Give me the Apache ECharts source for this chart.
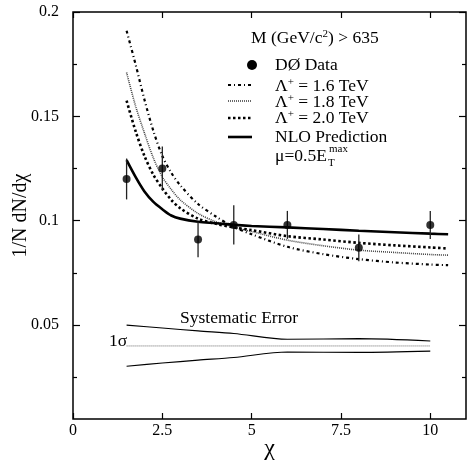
<!DOCTYPE html>
<html><head><meta charset="utf-8">
<script src="https://cdn.jsdelivr.net/npm/echarts@6/dist/echarts.min.js"></script>
<style>html,body{margin:0;padding:0;background:#fff}#c{width:468px;height:464px}</style>
</head><body><div id="c"></div>
<script>
// ---- data ----
const dataX = [1.5, 2.5, 3.5, 4.5, 6, 8, 10];
const dataY = [0.120, 0.125, 0.091, 0.098, 0.098, 0.087, 0.098];
const dataErr = [0.0098, 0.0105, 0.0085, 0.0094, 0.0067, 0.0064, 0.0067];

const curveX = [1.5, 1.75, 2, 2.25, 2.5, 2.75, 3, 3.5, 4, 4.5, 5, 6, 7, 8, 9, 10, 10.5];
const lam16 = [0.191, 0.175, 0.158, 0.143, 0.131, 0.123, 0.117, 0.108, 0.102, 0.097, 0.0935, 0.0875, 0.084, 0.0816, 0.0800, 0.0790, 0.0787];
const lam18 = [0.171, 0.155, 0.142, 0.130, 0.121, 0.115, 0.110, 0.1035, 0.0995, 0.097, 0.0948, 0.0907, 0.088, 0.0859, 0.0848, 0.0838, 0.0835];
const lam20 = [0.1575, 0.143, 0.131, 0.122, 0.1155, 0.110, 0.106, 0.101, 0.0985, 0.0968, 0.0955, 0.0926, 0.091, 0.0894, 0.0882, 0.0872, 0.0867];
const nlo = [0.129, 0.121, 0.114, 0.109, 0.1055, 0.1025, 0.101, 0.0995, 0.0988, 0.098, 0.0975, 0.0968, 0.096, 0.0952, 0.0945, 0.0938, 0.0935];

const sysX = [1.5, 2.5, 3.5, 4.5, 6, 8, 10];
const sysUp = [0.0500, 0.0486, 0.0472, 0.0460, 0.0432, 0.0435, 0.0424];
const sysLo = [0.0303, 0.0318, 0.0332, 0.0345, 0.0371, 0.0369, 0.0375];
const sysMidX = [1.5, 10];
const sysMid = [0.040, 0.040];

const xTicks = [0, 2.5, 5, 7.5, 10];
const xTickLabels = ['0', '2.5', '5', '7.5', '10'];
const yMajor = [0.05, 0.1, 0.15, 0.2];
const yMajorLabels = ['0.05', '0.1', '0.15', '0.2'];
const yMinor = [0.025, 0.075, 0.125, 0.175];

// ---- chart ----
const FONT = '"Liberation Serif", "DejaVu Serif", serif';
const zip = (xs, ys) => xs.map((x, i) => [x, ys[i]]);
const chart = echarts.init(document.getElementById('c'), null, {renderer: 'canvas'});

const yBase = {type: 'value', min: 0.005, max: 0.2, splitLine: {show: false}, axisLine: {show: false}};
const DASH16 = [3, 3, 1, 3];
const DASH18 = [1, 1];
const DASH20 = [2.5, 2.5];
const SUP = {fontFamily: FONT, fontSize: 11, verticalAlign: 'top', padding: [0, 0, 8, 0]};

const option = {
  animation: false,
  backgroundColor: '#fff',
  grid: {left: 73, right: 2, top: 12, bottom: 45, outerBoundsMode: 'none', containLabel: false,
         show: true, borderColor: '#000', borderWidth: 1.5, backgroundColor: 'transparent'},
  xAxis: [
    {type: 'value', min: 0, max: 11, position: 'bottom', splitLine: {show: false},
     axisLine: {show: false},
     axisTick: {inside: true, length: 6, customValues: xTicks, lineStyle: {color: '#000', width: 1.2}},
     axisLabel: {customValues: xTicks, formatter: v => xTickLabels[xTicks.indexOf(v)] ?? '', fontFamily: FONT, fontSize: 16, color: '#000', margin: 4},
     name: 'χ', nameLocation: 'middle', nameGap: 18, nameMoveOverlap: false, nameTextStyle: {fontFamily: FONT, fontSize: 24, color: '#000'}},
    {type: 'value', min: 0, max: 11, position: 'top', splitLine: {show: false}, axisLine: {show: false},
     axisTick: {inside: true, length: 6, customValues: xTicks, lineStyle: {color: '#000', width: 1.2}},
     axisLabel: {show: false}}
  ],
  yAxis: [
    Object.assign({}, yBase, {position: 'left',
     axisTick: {inside: true, length: 7, customValues: yMajor, lineStyle: {color: '#000', width: 1.2}},
     axisLabel: {customValues: yMajor, formatter: v => { const i = yMajor.findIndex(m => Math.abs(m - v) < 1e-9); return i >= 0 ? yMajorLabels[i] : ''; }, fontFamily: FONT, fontSize: 16, color: '#000', margin: 14},
     name: '1/N dN/dχ', nameLocation: 'middle', nameGap: 42, nameMoveOverlap: false, nameRotate: 90, nameTextStyle: {fontFamily: FONT, fontSize: 20, color: '#000'}}),
    Object.assign({}, yBase, {position: 'left',
     axisTick: {inside: true, length: 4, customValues: yMinor, lineStyle: {color: '#000', width: 1.2}},
     axisLabel: {show: false}}),
    Object.assign({}, yBase, {position: 'right',
     axisTick: {inside: true, length: 7, customValues: yMajor, lineStyle: {color: '#000', width: 1.2}},
     axisLabel: {show: false}}),
    Object.assign({}, yBase, {position: 'right',
     axisTick: {inside: true, length: 4, customValues: yMinor, lineStyle: {color: '#000', width: 1.2}},
     axisLabel: {show: false}})
  ],
  series: [
    {name: 'Λ+ = 1.6 TeV', type: 'line', data: zip(curveX, lam16), smooth: 0.3, showSymbol: false,
     lineStyle: {color: '#000', width: 2.2, type: DASH16}, z: 3},
    {name: 'Λ+ = 1.8 TeV', type: 'line', data: zip(curveX, lam18), smooth: 0.3, showSymbol: false,
     lineStyle: {color: '#444', width: 1.6, type: DASH18}, z: 3},
    {name: 'Λ+ = 2.0 TeV', type: 'line', data: zip(curveX, lam20), smooth: 0.3, showSymbol: false,
     lineStyle: {color: '#000', width: 2.6, type: DASH20}, z: 3},
    {name: 'NLO', type: 'line', data: zip(curveX, nlo), smooth: 0.3, showSymbol: false,
     lineStyle: {color: '#000', width: 2.6}, z: 4},
    {name: 'sysUp', type: 'line', data: zip(sysX, sysUp), smooth: 0.3, showSymbol: false,
     lineStyle: {color: '#000', width: 1.1}},
    {name: 'sysLo', type: 'line', data: zip(sysX, sysLo), smooth: 0.3, showSymbol: false,
     lineStyle: {color: '#000', width: 1.1}},
    {name: 'sysMid', type: 'line', data: zip(sysMidX, sysMid), showSymbol: false,
     lineStyle: {color: '#666', width: 1, type: [1, 1]}},
    {name: 'err', type: 'custom', z: 5,
     data: dataX.map((x, i) => [x, dataY[i], dataErr[i]]),
     renderItem: (params, api) => {
       const x = api.value(0), y = api.value(1), e = api.value(2);
       const p1 = api.coord([x, y + e]), p2 = api.coord([x, y - e]);
       return {type: 'line', shape: {x1: p1[0], y1: p1[1], x2: p2[0], y2: p2[1]}, style: {stroke: '#222', lineWidth: 1.3}};
     }},
    {name: 'DØ Data', type: 'scatter', data: zip(dataX, dataY), symbol: 'circle', symbolSize: 8,
     itemStyle: {color: '#000'}, z: 6}
  ],
  graphic: [
    {type: 'text', x: 251, y: 38, style: {text: 'M (GeV/c{sup|2}) > 635', fontFamily: FONT, fontSize: 17.5, fill: '#000', verticalAlign: 'middle', rich: {sup: SUP}}},
    {type: 'circle', shape: {cx: 252, cy: 65, r: 5}, style: {fill: '#000'}},
    {type: 'text', x: 275, y: 65, style: {text: 'DØ Data', fontFamily: FONT, fontSize: 17.5, fill: '#000', verticalAlign: 'middle'}},
    {type: 'line', shape: {x1: 228, y1: 85, x2: 252, y2: 85}, style: {stroke: '#000', lineWidth: 2.2, lineDash: DASH16}},
    {type: 'line', shape: {x1: 228, y1: 101, x2: 252, y2: 101}, style: {stroke: '#444', lineWidth: 1.6, lineDash: DASH18}},
    {type: 'line', shape: {x1: 228, y1: 118, x2: 252, y2: 118}, style: {stroke: '#000', lineWidth: 2.6, lineDash: DASH20}},
    {type: 'line', shape: {x1: 228, y1: 137, x2: 252, y2: 137}, style: {stroke: '#000', lineWidth: 2.6}},
    {type: 'text', x: 275, y: 86, style: {text: 'Λ{sup|+} = 1.6 TeV', fontFamily: FONT, fontSize: 17.5, fill: '#000', verticalAlign: 'middle', rich: {sup: SUP}}},
    {type: 'text', x: 275, y: 102, style: {text: 'Λ{sup|+} = 1.8 TeV', fontFamily: FONT, fontSize: 17.5, fill: '#000', verticalAlign: 'middle', rich: {sup: SUP}}},
    {type: 'text', x: 275, y: 118, style: {text: 'Λ{sup|+} = 2.0 TeV', fontFamily: FONT, fontSize: 17.5, fill: '#000', verticalAlign: 'middle', rich: {sup: SUP}}},
    {type: 'text', x: 275, y: 137, style: {text: 'NLO Prediction', fontFamily: FONT, fontSize: 17.5, fill: '#000', verticalAlign: 'middle'}},
    {type: 'text', x: 275, y: 156, style: {text: 'μ=0.5E', fontFamily: FONT, fontSize: 17.5, fill: '#000', verticalAlign: 'middle'}},
    {type: 'text', x: 329, y: 149, style: {text: 'max', fontFamily: FONT, fontSize: 11, fill: '#000', verticalAlign: 'middle'}},
    {type: 'text', x: 328, y: 163, style: {text: 'T', fontFamily: FONT, fontSize: 11, fill: '#000', verticalAlign: 'middle'}},
    {type: 'text', x: 180, y: 318, style: {text: 'Systematic Error', fontFamily: FONT, fontSize: 17.5, fill: '#000', verticalAlign: 'middle'}},
    {type: 'text', x: 109, y: 341, style: {text: '1σ', fontFamily: FONT, fontSize: 17.5, fill: '#000', verticalAlign: 'middle'}}
  ]
};
chart.setOption(option);
</script></body></html>
